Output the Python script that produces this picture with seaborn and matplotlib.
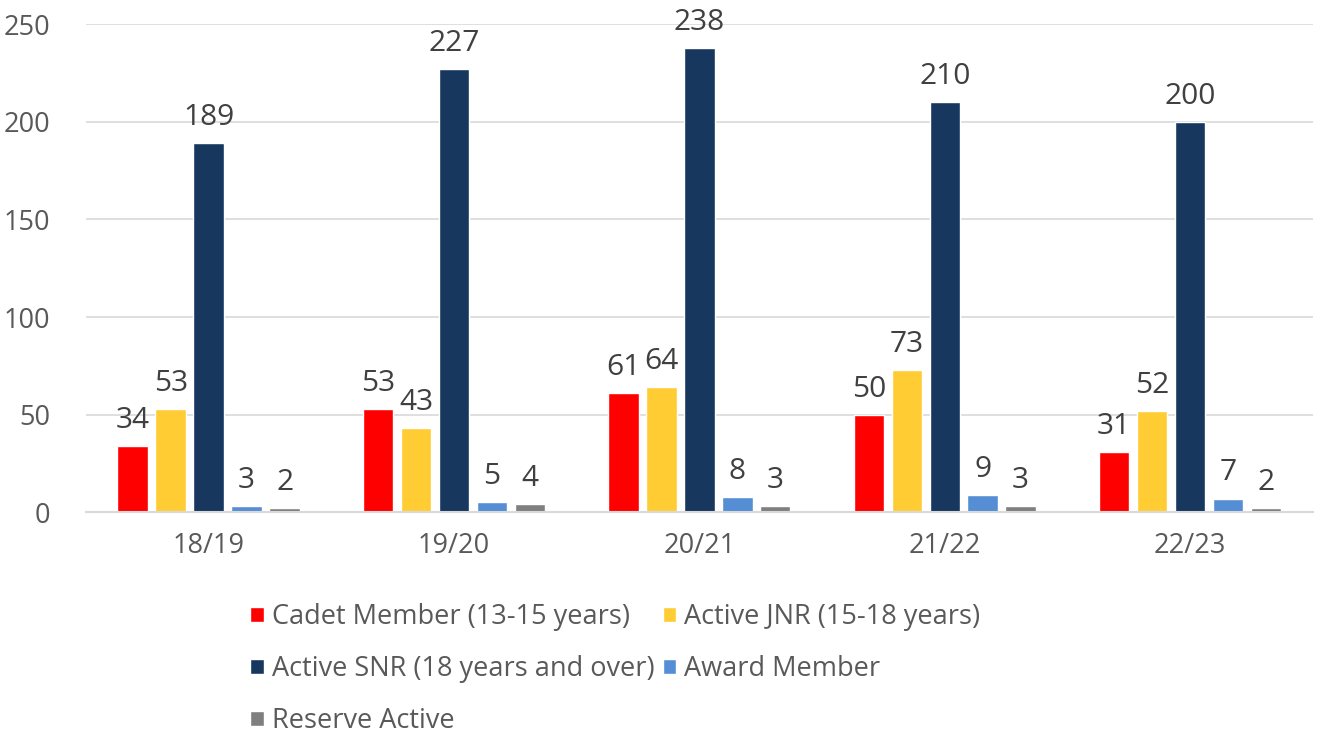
import matplotlib
matplotlib.use("Agg")
import matplotlib.pyplot as plt
import numpy as np
import pandas as pd
import seaborn as sns

years = ["18/19", "19/20", "20/21", "21/22", "22/23"]
series = ["Cadet Member (13-15 years)", "Active JNR (15-18 years)",
          "Active SNR (18 years and over)", "Award Member", "Reserve Active"]
cadet = [34, 53, 61, 50, 31]
active_jnr = [53, 43, 64, 73, 52]
active_snr = [189, 227, 238, 210, 200]
award = [3, 5, 8, 9, 7]
reserve = [2, 4, 3, 3, 2]
colors = ["#FF0000", "#FFCD33", "#17375E", "#558ED5", "#7F7F7F"]

values = [cadet, active_jnr, active_snr, award, reserve]
rows = []
for name, vals in zip(series, values):
    for yr, v in zip(years, vals):
        rows.append({"Year": yr, "Series": name, "Count": v})
df = pd.DataFrame(rows)

sns.set_style("white")
plt.rcParams["font.family"] = ["Open Sans", "DejaVu Sans"]
text_col = "#595959"

fig = plt.figure(figsize=(13.22, 7.36), dpi=100)
ax = fig.add_axes([0.065, 0.304, 0.928, 0.663])

sns.barplot(data=df, x="Year", y="Count", hue="Series", hue_order=series,
            order=years, palette=colors, width=0.774, gap=0.2, ax=ax,
            legend=True, saturation=1)

for cont in ax.containers:
    ax.bar_label(cont, padding=8, fontsize=21.5, color="#404040")

ax.set_ylim(0, 250)
ax.set_xlim(-0.5, 4.5)
ax.set_yticks(range(0, 251, 50))
ax.yaxis.grid(True, color="#d9d9d9", linewidth=1.2)
ax.set_axisbelow(True)
for s in ["top", "right", "left"]:
    ax.spines[s].set_visible(False)
ax.spines["bottom"].set_color("#d9d9d9")
ax.spines["bottom"].set_linewidth(1.5)
ax.tick_params(axis="both", length=0, labelsize=19.5, labelcolor=text_col)
ax.tick_params(axis="x", pad=14)
ax.tick_params(axis="y", pad=26)
ax.set_xlabel("")
ax.set_ylabel("")

# legend filled row by row: two columns
handles, labels = ax.get_legend_handles_labels()
ax.get_legend().remove()
order = [0, 2, 4, 1, 3]
fig.legend([handles[i] for i in order], [labels[i] for i in order],
           loc="upper left", bbox_to_anchor=(0.181, 0.195),
           ncol=2, frameon=False, fontsize=19.5, labelcolor=text_col,
           handlelength=0.5, handleheight=0.5, handletextpad=0.3,
           columnspacing=0.3, labelspacing=0.88, borderaxespad=0)

fig.savefig("out.png", dpi=100)
